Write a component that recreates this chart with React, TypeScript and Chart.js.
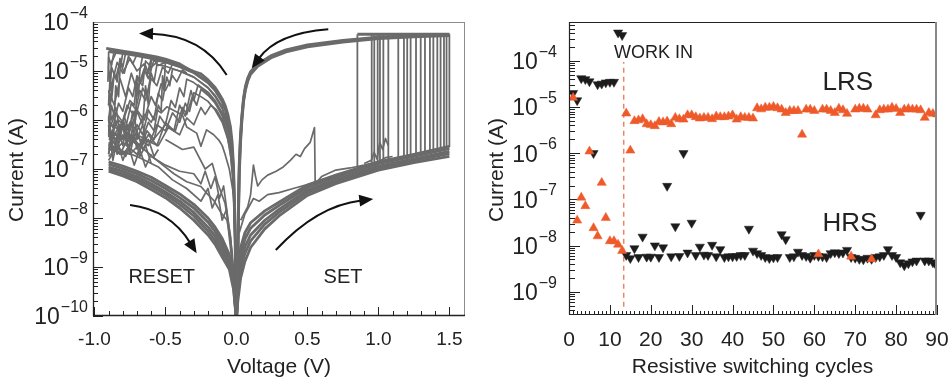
import React, { useEffect, useRef } from 'react';
import { Chart, registerables } from 'chart.js';
Chart.register(...registerables);

const FONT = "'Liberation Sans', Arial, Helvetica, sans-serif";
const GRAY = '#6a6a6a';
const ORANGE = '#ef5a2b';
const BLACK = '#1c1c1c';
const TEXT = '#222222';

type P = [number, number];

// ---------------- Left panel: I-V curves (Voltage V, Current A) ----------------
const lrsPosA: P[] = [[1.5,5.6e-5],[1.25,5.3e-5],[1.0,4.9e-5],[0.75,4.2e-5],[0.5,3.4e-5],[0.35,2.7e-5],[0.25,2.1e-5],[0.15,1.4e-5],[0.1,9.7e-6],[0.08,7.2e-6],[0.063,4.8e-6],[0.05,2.8e-6],[0.038,1.2e-6],[0.028,4.5e-7],[0.019,1.1e-7],[0.014,1.5e-8],[0.01,2e-9],[0.006,4e-10],[0.002,1e-10],[0,8e-11]];
const lrsPosB: P[] = [[1.5,5.3e-5],[1.25,5.0e-5],[1.0,4.6e-5],[0.75,3.9e-5],[0.5,3.1e-5],[0.35,2.45e-5],[0.25,1.9e-5],[0.15,1.25e-5],[0.1,8.6e-6],[0.08,6.2e-6],[0.063,4e-6],[0.05,2.3e-6],[0.038,9e-7],[0.028,3e-7],[0.02,7e-8],[0.015,1.2e-8],[0.01,1.5e-9],[0.005,2.5e-10],[0,8e-11]];
const lrsPosC: P[] = [[1.5,5.45e-5],[1.25,5.15e-5],[1.0,4.75e-5],[0.75,4.05e-5],[0.5,3.25e-5],[0.35,2.6e-5],[0.25,2.0e-5],[0.15,1.32e-5],[0.1,9.1e-6],[0.08,6.7e-6],[0.063,4.4e-6],[0.05,2.55e-6],[0.038,1.05e-6],[0.028,3.7e-7],[0.02,9e-8],[0.015,1.4e-8],[0.01,1.8e-9],[0.005,3e-10],[0,8e-11]];
const hrsPosUpper: P[] = [[0,8e-11],[0.01,8e-10],[0.03,2.5e-9],[0.06,5e-9],[0.1,8e-9],[0.2,1.4e-8],[0.3,2.1e-8],[0.5,4.7e-8],[0.7,7.5e-8],[1.0,1.4e-7],[1.25,2e-7],[1.5,2.9e-7]];
const hrsPosUM: P[] = [[0,8e-11],[0.01,6e-10],[0.03,1.8e-9],[0.06,3.7e-9],[0.1,6.2e-9],[0.2,1.15e-8],[0.3,1.8e-8],[0.5,4.2e-8],[0.7,6.7e-8],[1.0,1.28e-7],[1.25,1.8e-7],[1.5,2.6e-7]];
const hrsPosMid: P[] = [[0,8e-11],[0.01,4e-10],[0.03,1.2e-9],[0.06,2.6e-9],[0.1,4.5e-9],[0.2,9e-9],[0.3,1.5e-8],[0.5,3.7e-8],[0.7,6e-8],[1.0,1.15e-7],[1.25,1.6e-7],[1.5,2.3e-7]];
const hrsPosML: P[] = [[0,8e-11],[0.01,3e-10],[0.03,9e-10],[0.06,1.9e-9],[0.1,3.4e-9],[0.2,7.5e-9],[0.3,1.3e-8],[0.5,3.3e-8],[0.7,5.5e-8],[1.0,1.05e-7],[1.25,1.48e-7],[1.5,2.05e-7]];
const hrsPosLower: P[] = [[0,8e-11],[0.01,2e-10],[0.03,6e-10],[0.06,1.3e-9],[0.1,2.5e-9],[0.2,6e-9],[0.3,1.1e-8],[0.5,2.9e-8],[0.7,5e-8],[1.0,9.5e-8],[1.25,1.35e-7],[1.5,1.8e-7]];
const oddSet1: P[] = [[0.03,9e-9],[0.08,1.7e-8],[0.1,3e-8],[0.12,1.2e-7],[0.135,7e-8],[0.15,4.5e-8],[0.18,6e-8],[0.22,7.5e-8],[0.28,9e-8],[0.33,1.1e-7],[0.38,1.5e-7],[0.42,2e-7],[0.45,1.8e-7],[0.48,2.6e-7],[0.52,3.5e-7],[0.55,7e-7],[0.555,5e-8],[0.6,7e-8],[0.7,9.5e-8],[0.8,1.05e-7],[0.9,1.2e-7],[1.0,1.4e-7],[1.05,1.7e-7],[1.1,1.8e-7]];
const oddSet2: P[] = [[0.02,5e-9],[0.06,1.2e-8],[0.12,2.5e-8],[0.16,2.2e-8],[0.22,3e-8],[0.3,3.3e-8],[0.4,4e-8],[0.5,4.8e-8],[0.6,6e-8],[0.75,8e-8],[0.852,1e-7]];
const spikeSet: P[] = [[0.9,1.3e-7],[0.95,1.5e-7],[0.97,2.2e-7],[0.99,1.6e-7],[1.01,3.5e-7],[1.03,2.5e-7],[1.05,4.2e-7],[1.07,3e-7]];
const setVoltages = [0.852,0.953,0.971,0.995,1.011,1.035,1.07,1.14,1.18,1.203,1.227,1.265,1.298,1.328,1.363,1.387,1.415,1.438,1.462,1.48,1.5];
const setBaseCurrents = [1.1e-7,1.3e-7,1.35e-7,1.4e-7,1.45e-7,1.5e-7,1.6e-7,1.75e-7,1.85e-7,1.9e-7,1.95e-7,2.05e-7,2.1e-7,2.2e-7,2.3e-7,2.4e-7,2.5e-7,2.55e-7,2.6e-7,2.7e-7,2.8e-7];
const complianceCurrent = 5.6e-5;
const complianceLine: P[] = [[0.852,5.6e-5],[1.5,5.6e-5]];

const lrsNegA: P[] = [[0,8e-11],[-0.003,3e-10],[-0.007,2e-9],[-0.012,1.5e-8],[-0.02,1.1e-7],[-0.03,3.5e-7],[-0.042,7.3e-7],[-0.06,1.3e-6],[-0.08,2e-6],[-0.1,2.7e-6],[-0.124,3.5e-6],[-0.15,4.6e-6],[-0.2,6.6e-6],[-0.25,8.8e-6],[-0.33,1.05e-5],[-0.4,1.4e-5],[-0.5,1.75e-5],[-0.563,1.95e-5],[-0.7,2.3e-5],[-0.8,2.55e-5],[-0.917,2.9e-5]];
const lrsNegD: P[] = [[0,8e-11],[-0.004,4e-10],[-0.008,3e-9],[-0.014,2e-8],[-0.022,1.1e-7],[-0.035,3.8e-7],[-0.05,7e-7],[-0.07,1.4e-6],[-0.1,2.4e-6],[-0.15,4.1e-6],[-0.2,5.9e-6],[-0.3,9.5e-6],[-0.4,1.25e-5],[-0.5,1.55e-5],[-0.6,1.8e-5],[-0.7,2.05e-5],[-0.8,2.3e-5],[-0.9,2.5e-5]];
const lrsNegB: P[] = [[0,8e-11],[-0.004,5e-10],[-0.01,6e-9],[-0.018,5e-8],[-0.03,2e-7],[-0.05,5e-7],[-0.075,1.1e-6],[-0.1,1.7e-6],[-0.15,3e-6],[-0.2,4.5e-6],[-0.3,7.5e-6],[-0.4,1e-5],[-0.5,1.25e-5],[-0.56,1.35e-5],[-0.58,6e-6],[-0.6,9e-6],[-0.63,3e-6],[-0.66,4.5e-6],[-0.7,1.5e-6],[-0.74,2.2e-6],[-0.78,7e-7],[-0.83,1e-6],[-0.9,4.5e-7]];
const lrsNegC: P[] = [[0,8e-11],[-0.006,6e-10],[-0.012,5e-9],[-0.025,6e-8],[-0.04,1.8e-7],[-0.06,4e-7],[-0.1,9e-7],[-0.15,1.6e-6],[-0.2,2.4e-6],[-0.25,3e-6],[-0.3,3.6e-6],[-0.33,1.5e-6],[-0.36,2.2e-6],[-0.4,9e-7],[-0.45,1.4e-6],[-0.5,6e-7],[-0.56,8e-7],[-0.62,3e-7],[-0.7,4.5e-7],[-0.8,2e-7],[-0.9,2.8e-7]];
const lrsNegE: P[] = [[0,8e-11],[-0.005,6e-10],[-0.012,8e-9],[-0.02,5e-8],[-0.035,2.2e-7],[-0.06,6e-7],[-0.1,1.4e-6],[-0.15,2.5e-6],[-0.2,3.7e-6],[-0.27,5.2e-6],[-0.3,2.5e-6],[-0.32,4e-6],[-0.36,1.2e-6],[-0.4,2e-6],[-0.44,6e-7],[-0.5,9e-7],[-0.56,3e-7],[-0.62,5e-7],[-0.7,2e-7],[-0.8,3.5e-7],[-0.9,1.8e-7]];
const lrsNegF: P[] = [[0,8e-11],[-0.006,8e-10],[-0.014,1e-8],[-0.025,7e-8],[-0.045,2.5e-7],[-0.07,5.5e-7],[-0.1,1e-6],[-0.14,1.6e-6],[-0.18,2e-6],[-0.22,1.3e-6],[-0.25,1.8e-6],[-0.3,8e-7],[-0.35,1.1e-6],[-0.4,5e-7],[-0.48,7e-7],[-0.55,3e-7],[-0.65,4e-7],[-0.75,2e-7],[-0.9,2.5e-7]];
const lrsNegG: P[] = [[0,8e-11],[-0.005,7e-10],[-0.012,1e-8],[-0.022,8e-8],[-0.04,3e-7],[-0.07,8e-7],[-0.1,1.3e-6],[-0.15,2.2e-6],[-0.2,3.2e-6],[-0.25,4.2e-6],[-0.28,2e-6],[-0.31,3e-6],[-0.35,1.3e-6],[-0.38,1.8e-6],[-0.43,6e-7],[-0.5,8e-7],[-0.6,3.5e-7],[-0.7,5e-7],[-0.9,4e-7]];
const reset1: P[] = [[0,8e-11],[-0.005,8e-10],[-0.012,1.2e-8],[-0.02,9e-8],[-0.035,3.5e-7],[-0.05,6e-7],[-0.08,1.6e-6],[-0.1,2.3e-6],[-0.15,3.9e-6],[-0.2,5.6e-6],[-0.3,9e-6],[-0.4,1.2e-5],[-0.5,1.5e-5],[-0.6,1.7e-5],[-0.62,9e-6],[-0.64,1.3e-5],[-0.67,6e-6],[-0.7,8e-6],[-0.73,3e-6],[-0.76,4.5e-6],[-0.8,1.5e-6],[-0.83,2.2e-6],[-0.87,7e-7],[-0.9,1e-6]];
const reset2: P[] = [[0,8e-11],[-0.006,1e-9],[-0.015,1.5e-8],[-0.025,9e-8],[-0.04,2.8e-7],[-0.06,6e-7],[-0.1,1.9e-6],[-0.15,3.2e-6],[-0.2,4.6e-6],[-0.3,7.5e-6],[-0.4,1e-5],[-0.45,1.1e-5],[-0.47,5e-6],[-0.49,7.5e-6],[-0.52,2.5e-6],[-0.55,3.5e-6],[-0.58,1e-6],[-0.62,1.6e-6],[-0.66,5e-7],[-0.7,8e-7],[-0.75,3.5e-7],[-0.8,5e-7],[-0.85,2.5e-7],[-0.9,3.5e-7]];
const reset3: P[] = [[-0.3,1e-5],[-0.4,1.35e-5],[-0.5,1.65e-5],[-0.6,1.9e-5],[-0.7,2.15e-5],[-0.78,2.35e-5],[-0.8,1.2e-5],[-0.82,1.8e-5],[-0.84,6e-6],[-0.86,9e-6],[-0.88,2.5e-6],[-0.9,4e-6]];
const reset4: P[] = [[-0.5,1.7e-5],[-0.7,2.25e-5],[-0.86,2.6e-5],[-0.88,1.3e-5],[-0.9,1.9e-5],[-0.905,6e-6]];
const reset5: P[] = [[-0.05,3.5e-7],[-0.1,1.2e-6],[-0.15,2.3e-6],[-0.2,3.5e-6],[-0.3,5.8e-6],[-0.35,6.8e-6],[-0.37,3e-6],[-0.4,4.5e-6],[-0.43,1.8e-6],[-0.46,2.5e-6],[-0.5,8e-7],[-0.54,1.2e-6],[-0.58,4e-7],[-0.63,6e-7],[-0.68,2.5e-7],[-0.73,4e-7],[-0.78,1.8e-7],[-0.84,3e-7],[-0.9,1.5e-7]];
const reset6: P[] = [[-0.02,3e-8],[-0.05,1e-7],[-0.08,2e-7],[-0.1,3e-7],[-0.124,3.9e-7],[-0.16,5e-7],[-0.21,6.3e-7],[-0.25,2.9e-7],[-0.28,5.4e-7],[-0.35,7.2e-7],[-0.38,1.26e-6],[-0.43,1.5e-6],[-0.49,1.86e-6],[-0.53,1.4e-6],[-0.56,1.6e-6],[-0.6,9e-7],[-0.65,1.3e-6],[-0.7,6e-7],[-0.75,9e-7],[-0.8,4e-7],[-0.9,6e-7]];
const reset7: P[] = [[-0.85,2.3e-5],[-0.88,1.5e-5],[-0.89,4e-6],[-0.87,6e-6],[-0.9,1e-6],[-0.88,5e-7],[-0.9,2e-7]];
const reset8: P[] = [[-0.6,1.95e-5],[-0.66,2.1e-5],[-0.68,1e-5],[-0.69,3e-6],[-0.7,6e-6],[-0.71,1e-6],[-0.73,1.5e-6],[-0.76,5e-7],[-0.8,8e-7],[-0.85,3e-7],[-0.9,5e-7]];
const reset9: P[] = [[-0.45,1.5e-5],[-0.5,1.6e-5],[-0.51,4e-6],[-0.52,8e-6],[-0.53,1.5e-6],[-0.55,2e-6],[-0.58,6e-7],[-0.62,9e-7],[-0.68,3e-7],[-0.75,5e-7],[-0.82,2e-7],[-0.9,3e-7]];
const reset10: P[] = [[-0.6,1.8e-5],[-0.63,8e-6],[-0.65,1.4e-5],[-0.7,1e-5],[-0.75,1.8e-5],[-0.8,9e-6],[-0.84,1.5e-5],[-0.88,5e-6],[-0.9,8e-6]];
const reset11: P[] = [[-0.55,1.6e-5],[-0.6,1.2e-5],[-0.64,1.6e-5],[-0.66,5e-6],[-0.7,7e-6],[-0.72,2e-6],[-0.75,2.5e-6],[-0.8,9e-7],[-0.85,1.4e-6],[-0.9,6e-7]];
const topLeft1: P[] = [[-0.5,1.5e-5],[-0.55,1.3e-5],[-0.58,1.7e-5],[-0.62,7e-6],[-0.65,1.1e-5],[-0.7,4e-6],[-0.74,9e-6],[-0.78,3e-6],[-0.82,7e-6],[-0.86,2e-6],[-0.9,4e-6]];
const topLeft2: P[] = [[-0.7,2.2e-5],[-0.73,1.4e-5],[-0.76,2e-5],[-0.79,9e-6],[-0.82,1.6e-5],[-0.85,7e-6],[-0.88,1.2e-5],[-0.9,2e-6]];
const topLeft3: P[] = [[-0.4,1.3e-5],[-0.45,1.4e-5],[-0.48,9e-6],[-0.52,1.2e-5],[-0.56,5e-6],[-0.6,7e-6],[-0.64,2.5e-6],[-0.68,4e-6],[-0.72,1.2e-6],[-0.77,2e-6],[-0.82,6e-7],[-0.9,9e-7]];
const topLeft4: P[] = [[-0.6,1.6e-5],[-0.62,2e-6],[-0.64,5e-6],[-0.66,8e-7],[-0.7,1.5e-6],[-0.75,4e-7],[-0.8,7e-7],[-0.9,2.5e-7]];
const topLeft5: P[] = [[-0.8,2.4e-5],[-0.82,1e-5],[-0.83,3e-6],[-0.85,5e-6],[-0.86,1.2e-6],[-0.88,2e-6],[-0.9,5e-7]];
const topLeft6: P[] = [[-0.35,9e-6],[-0.38,1.05e-5],[-0.42,6e-6],[-0.45,8e-6],[-0.5,4e-6],[-0.53,5.5e-6],[-0.57,2e-6],[-0.6,3e-6],[-0.65,1e-6],[-0.7,1.6e-6],[-0.76,5e-7],[-0.82,8e-7],[-0.9,3e-7]];
const topLeft7: P[] = [[-0.88,2.7e-5],[-0.9,2.4e-5],[-0.9,1.1e-5],[-0.89,7e-6],[-0.9,2e-6]];
const cluster1: P[] = [[-0.9,5e-7],[-0.86,2.5e-7],[-0.83,6e-7],[-0.8,3e-7],[-0.77,8e-7],[-0.74,3.5e-7],[-0.7,6e-7],[-0.66,2.5e-7],[-0.62,4e-7],[-0.58,1.8e-7],[-0.55,2.5e-7]];
const cluster2: P[] = [[-0.9,2e-7],[-0.87,6e-7],[-0.84,2e-7],[-0.81,9e-7],[-0.78,4e-7],[-0.75,2e-7],[-0.72,5e-7],[-0.68,1.8e-7],[-0.64,3e-7],[-0.6,1.3e-7]];
const cluster3: P[] = [[-0.9,1.2e-6],[-0.88,3e-7],[-0.85,1e-6],[-0.82,4e-7],[-0.79,1.2e-6],[-0.76,6e-7],[-0.72,1.5e-6],[-0.7,4e-7],[-0.66,8e-7],[-0.63,3e-7]];
const cluster4: P[] = [[-0.9,8e-7],[-0.87,1.5e-7],[-0.84,4e-7],[-0.8,1.5e-7],[-0.76,3e-7],[-0.72,1.2e-7],[-0.68,2.5e-7],[-0.64,1.1e-7],[-0.6,2e-7]];
const cluster5: P[] = [[-0.9,2.5e-6],[-0.88,1e-6],[-0.85,1.8e-6],[-0.82,6e-7],[-0.79,9e-7],[-0.76,2.5e-7],[-0.73,7e-7],[-0.7,2.5e-7]];
const hrsNegA: P[] = [[-0.9,9e-8],[-0.8,7.2e-8],[-0.7,5.5e-8],[-0.6,3.8e-8],[-0.5,2.6e-8],[-0.4,1.6e-8],[-0.3,9e-9],[-0.2,4.5e-9],[-0.15,2.9e-9],[-0.1,1.6e-9],[-0.05,9e-10],[-0.02,3.5e-10],[-0.005,1.2e-10],[0,8e-11]];
const hrsNegD: P[] = [[-0.9,1e-7],[-0.8,8e-8],[-0.7,6.2e-8],[-0.6,4.4e-8],[-0.5,3e-8],[-0.4,1.9e-8],[-0.3,1.1e-8],[-0.2,5.4e-9],[-0.15,3.5e-9],[-0.1,2e-9],[-0.05,1.1e-9],[-0.02,4e-10],[0,8e-11]];
const hrsNegB: P[] = [[-0.9,1.1e-7],[-0.8,9e-8],[-0.7,7e-8],[-0.6,5e-8],[-0.5,3.4e-8],[-0.4,2.2e-8],[-0.3,1.3e-8],[-0.2,6.5e-9],[-0.15,4.3e-9],[-0.1,2.5e-9],[-0.05,1.3e-9],[-0.02,5e-10],[-0.005,1.5e-10],[0,8e-11]];
const hrsNegE: P[] = [[-0.9,1.25e-7],[-0.8,1.02e-7],[-0.7,8e-8],[-0.6,5.8e-8],[-0.5,4e-8],[-0.4,2.6e-8],[-0.3,1.6e-8],[-0.2,8.2e-9],[-0.15,5.3e-9],[-0.1,3.1e-9],[-0.05,1.5e-9],[-0.02,5.5e-10],[0,8e-11]];
const hrsNegC: P[] = [[-0.9,1.4e-7],[-0.8,1.15e-7],[-0.7,9e-8],[-0.6,6.8e-8],[-0.5,4.6e-8],[-0.4,3.1e-8],[-0.3,1.9e-8],[-0.2,1e-8],[-0.15,6.5e-9],[-0.1,3.8e-9],[-0.05,1.8e-9],[-0.02,6e-10],[0,8e-11]];
const return1: P[] = [[-0.9,6e-7],[-0.75,4e-7],[-0.65,2.5e-7],[-0.56,1.5e-7],[-0.44,8e-8],[-0.35,5.5e-8],[-0.25,4.4e-8],[-0.2,3e-8],[-0.16,2.3e-8],[-0.11,1.3e-8],[-0.066,9e-9],[-0.042,3.5e-9],[-0.02,8e-10],[0,8e-11]];
const return2: P[] = [[-0.9,3e-7],[-0.7,1.8e-7],[-0.55,1.1e-7],[-0.45,6e-8],[-0.35,4e-8],[-0.25,2.2e-8],[-0.2,4e-8],[-0.17,1.6e-8],[-0.13,3e-8],[-0.1,9e-9],[-0.07,1.5e-8],[-0.05,4e-9],[-0.03,1.2e-9],[0,8e-11]];
const return3: P[] = [[-0.6,1.8e-7],[-0.5,1.2e-7],[-0.4,9e-8],[-0.3,8e-8],[-0.25,5e-8],[-0.22,9e-8],[-0.18,4e-8],[-0.15,7e-8],[-0.12,2.5e-8],[-0.09,4.5e-8],[-0.06,1e-8],[-0.03,2e-9],[0,8e-11]];
const return4: P[] = [[-0.5,4e-7],[-0.38,2.5e-7],[-0.3,2.8e-7],[-0.22,1e-7],[-0.17,1.3e-7],[-0.13,5e-8],[-0.08,2e-8],[-0.04,4e-9],[0,8e-11]];

const leftXTickLabels = ['-1.0', '-0.5', '0.0', '0.5', '1.0', '1.5'];
const leftXTickValues = [-1.0, -0.5, 0, 0.5, 1.0, 1.5];
const leftYDecades = [-4, -5, -6, -7, -8, -9, -10];

// ---------------- Right panel: switching cycles ----------------
const cycles = Array.from({ length: 90 }, (_, i) => i + 1);
const lrsCurrent = [
  1.6e-5, 3.5e-8, 1.1e-7, 7.2e-8, 1.1e-6, 2.4e-8, 1.6e-8, 2.3e-7, 4.0e-8, 1.25e-8,
  1.25e-8, 1.05e-8, 7.7e-9, 7.3e-6, 1.15e-6, 5.0e-6, 5.2e-6, 5.5e-6, 4.3e-6, 4.1e-6,
  3.9e-6, 4.8e-6, 4.7e-6, 4.9e-6, 4.3e-6, 5.9e-6, 5.5e-6, 5.4e-6, 6.7e-6, 6.7e-6,
  6.1e-6, 5.7e-6, 5.9e-6, 5.9e-6, 5.5e-6, 6.3e-6, 6.1e-6, 6.1e-6, 6.3e-6, 6.7e-6,
  5.4e-6, 6.1e-6, 5.9e-6, 5.9e-6, 5.7e-6, 9.5e-6, 9.0e-6, 9.8e-6, 9.8e-6, 1.02e-5,
  9.5e-6, 8.9e-6, 7.5e-6, 8.3e-6, 8.3e-6, 8.3e-6, 2.55e-6, 8.9e-6, 8.9e-6, 8.3e-6,
  6.5e-9, 8.9e-6, 8.9e-6, 8.3e-6, 7.5e-6, 9.3e-6, 8.6e-6, 7.2e-6, 5.8e-9, 8.9e-6,
  9.3e-6, 9.3e-6, 8.9e-6, 5.1e-9, 6.7e-6, 8.6e-6, 8.9e-6, 8.9e-6, 9.8e-6, 9.2e-6,
  7.5e-6, 8.9e-6, 9.2e-6, 8.9e-6, 8.9e-6, 8.6e-6, 5.9e-6, 7.5e-6, 7.2e-6, 7.0e-6,
];
const hrsCurrent = [
  2.0e-5, 1.4e-5, 4.2e-5, 4.0e-5, 3.6e-5, 1.0e-6, 3.1e-5, 3.2e-5, 3.4e-5, 3.5e-5,
  3.5e-5, 4.1e-4, 3.6e-4, 6.2e-9, 5.3e-9, 8.7e-9, 5.6e-9, 1.55e-8, 5.7e-9, 5.7e-9,
  1.0e-8, 5.6e-9, 9.1e-9, 1.95e-7, 5.8e-9, 2.6e-8, 5.9e-9, 1.0e-6, 7.0e-9, 3.1e-8,
  6.2e-9, 9.4e-9, 6.3e-9, 6.2e-9, 1.03e-8, 5.8e-9, 8.3e-9, 5.6e-9, 5.8e-9, 5.8e-9,
  5.9e-9, 6.2e-9, 6.2e-9, 2.3e-8, 7.7e-9, 6.8e-9, 6.2e-9, 5.6e-9, 5.3e-9, 5.5e-9,
  5.6e-9, 1.75e-8, 1.36e-8, 5.6e-9, 5.8e-9, 7.3e-9, 6.2e-9, 5.9e-9, 5.4e-9, 6.2e-9,
  5.9e-9, 5.8e-9, 5.6e-9, 6.8e-9, 7.1e-9, 6.8e-9, 7.0e-9, 8.0e-9, 5.6e-9, 5.4e-9,
  5.1e-9, 5.0e-9, 5.4e-9, 5.1e-9, 5.6e-9, 5.8e-9, 6.2e-9, 8.3e-9, 6.2e-9, 5.6e-9,
  4.3e-9, 3.7e-9, 4.1e-9, 4.5e-9, 4.7e-9, 4.6e-8, 4.7e-9, 4.7e-9, 4.3e-9, 3.5e-9,
];
const workInLine: P[] = [[13.4, 4.7e-10], [13.4, 9.5e-5]];
const rightXTickValues = [0, 10, 20, 30, 40, 50, 60, 70, 80, 90];
const rightYDecades = [-4, -5, -6, -7, -8, -9];

// annotation anchors (data coordinates)
const arrowsLeft = [
  { tail: [-0.0685, 8.28e-6], ctrl: [-0.2445, 5.43e-5], tip: [-0.686, 5.82e-5] },
  { tail: [0.647, 7.1e-5], ctrl: [0.285, 5.88e-5], tip: [0.108, 1.135e-5] },
  { tail: [-0.749, 1.84e-8], ctrl: [-0.468, 1.46e-8], tip: [-0.28, 1.9e-9] },
  { tail: [0.2775, 2.22e-9], ctrl: [0.567, 1.8e-8], tip: [0.964, 2.44e-8] },
];

const toXY = (pts: P[]) => pts.map(([x, y]) => ({ x, y }));

function drawPow(ctx: CanvasRenderingContext2D, xRight: number, y: number, exp: number) {
  const sup = '\u2212' + Math.abs(exp);
  ctx.font = `16px ${FONT}`;
  const ws = ctx.measureText(sup).width;
  ctx.font = `23px ${FONT}`;
  const wb = ctx.measureText('10').width;
  ctx.textAlign = 'left';
  ctx.textBaseline = 'alphabetic';
  ctx.fillText('10', xRight - ws - wb - 1, y + 8.3);
  ctx.font = `16px ${FONT}`;
  ctx.fillText(sup, xRight - ws, y - 4);
}

function logTickValues(min: number, max: number) {
  const out: { v: number; major: boolean }[] = [];
  for (let d = Math.floor(Math.log10(min)); d <= Math.ceil(Math.log10(max)); d++) {
    for (let m = 1; m <= 9; m++) {
      const v = m * Math.pow(10, d);
      if (v >= min * 0.999 && v <= max * 1.001) out.push({ v, major: m === 1 });
    }
  }
  return out;
}

function seg(ctx: CanvasRenderingContext2D, x1: number, y1: number, x2: number, y2: number) {
  ctx.beginPath();
  ctx.moveTo(x1, y1);
  ctx.lineTo(x2, y2);
  ctx.stroke();
}

function drawArrow(ctx: CanvasRenderingContext2D, xs: any, ys: any, a: any) {
  const px = (p: number[]) => ({ x: xs.getPixelForValue(p[0]), y: ys.getPixelForValue(p[1]) });
  const t = px(a.tail), c = px(a.ctrl), tip = px(a.tip);
  const dx = tip.x - c.x, dy = tip.y - c.y;
  const L = Math.hypot(dx, dy);
  const ux = dx / L, uy = dy / L;
  const hl = 14, hw = 6;
  const bx = tip.x - ux * hl, by = tip.y - uy * hl;
  ctx.strokeStyle = '#111';
  ctx.fillStyle = '#111';
  ctx.lineWidth = 2;
  ctx.beginPath();
  ctx.moveTo(t.x, t.y);
  ctx.quadraticCurveTo(c.x, c.y, bx + ux * 2, by + uy * 2);
  ctx.stroke();
  ctx.beginPath();
  ctx.moveTo(tip.x, tip.y);
  ctx.lineTo(bx - uy * hw, by + ux * hw);
  ctx.lineTo(bx + uy * hw, by - ux * hw);
  ctx.closePath();
  ctx.fill();
}

const leftPlugin = {
  id: 'leftDecor',
  beforeDatasetsDraw(chart: any) {
    const { ctx, chartArea: a, scales } = chart;
    const xs = scales.x, ys = scales.y;
    ctx.save();
    ctx.strokeStyle = '#222';
    ctx.lineWidth = 1;
    for (const t of logTickValues(1e-10, 1e-4)) {
      const y = Math.round(ys.getPixelForValue(t.v)) + 0.5;
      seg(ctx, a.left, y, a.left + (t.major ? 10 : 5), y);
    }
    for (let k = -10; k <= 16; k++) {
      const x = Math.round(xs.getPixelForValue(k / 10)) + 0.5;
      seg(ctx, x, a.bottom, x, a.bottom - (k % 5 === 0 ? 9 : 5));
    }
    ctx.restore();
  },
  afterDraw(chart: any) {
    const { ctx, chartArea: a, scales } = chart;
    const xs = scales.x, ys = scales.y;
    ctx.save();
    ctx.lineWidth = 1;
    ctx.strokeStyle = '#8c8c8c';
    seg(ctx, a.left, a.top + 0.5, a.right, a.top + 0.5);
    seg(ctx, a.right - 0.5, a.top, a.right - 0.5, a.bottom);
    ctx.strokeStyle = '#222';
    ctx.lineWidth = 1.3;
    seg(ctx, a.left + 0.5, a.top, a.left + 0.5, a.bottom);
    seg(ctx, a.left, a.bottom - 0.5, a.right, a.bottom - 0.5);

    ctx.fillStyle = TEXT;
    for (const d of leftYDecades) drawPow(ctx, 88, ys.getPixelForValue(Math.pow(10, d)), d);
    ctx.font = `19px ${FONT}`;
    ctx.textAlign = 'center';
    ctx.textBaseline = 'alphabetic';
    leftXTickValues.forEach((v, i) => ctx.fillText(leftXTickLabels[i], xs.getPixelForValue(v), 345));

    ctx.font = `21px ${FONT}`;
    ctx.fillText('Voltage (V)', (a.left + a.right) / 2, 373);
    ctx.save();
    ctx.translate(17, 170);
    ctx.rotate(-Math.PI / 2);
    ctx.textBaseline = 'middle';
    ctx.fillText('Current (A)', 0, 0);
    ctx.restore();

    ctx.font = `20px ${FONT}`;
    ctx.textAlign = 'center';
    ctx.textBaseline = 'alphabetic';
    ctx.fillText('RESET', xs.getPixelForValue(-0.526), ys.getPixelForValue(4.8e-10));
    ctx.fillText('SET', xs.getPixelForValue(0.751), ys.getPixelForValue(4.8e-10));

    for (const ar of arrowsLeft) drawArrow(ctx, xs, ys, ar);
    ctx.restore();
  },
};

const rightPlugin = {
  id: 'rightDecor',
  beforeDatasetsDraw(chart: any) {
    const { ctx, chartArea: a, scales } = chart;
    const xs = scales.x, ys = scales.y;
    ctx.save();
    ctx.strokeStyle = '#222';
    ctx.lineWidth = 1;
    for (const t of logTickValues(ys.min, ys.max)) {
      const y = Math.round(ys.getPixelForValue(t.v)) + 0.5;
      seg(ctx, a.left, y, a.left + (t.major ? 11 : 6), y);
    }
    for (let k = 0; k <= 90; k++) {
      const x = Math.round(xs.getPixelForValue(k)) + 0.5;
      seg(ctx, x, a.bottom, x, a.bottom - (k % 10 === 0 ? 10 : 4));
    }
    ctx.restore();
  },
  afterDraw(chart: any) {
    const { ctx, chartArea: a, scales } = chart;
    const xs = scales.x, ys = scales.y;
    ctx.save();
    ctx.strokeStyle = '#222';
    ctx.lineWidth = 1.2;
    seg(ctx, a.left, a.top + 0.5, a.right, a.top + 0.5);
    seg(ctx, a.left + 0.5, a.top, a.left + 0.5, a.bottom);
    seg(ctx, a.left, a.bottom - 0.5, a.right, a.bottom - 0.5);
    ctx.strokeStyle = '#888';
    ctx.lineWidth = 2;
    seg(ctx, a.right - 1, a.top, a.right - 1, a.bottom);

    ctx.fillStyle = TEXT;
    for (const d of rightYDecades) drawPow(ctx, a.left - 12, ys.getPixelForValue(Math.pow(10, d)), d);
    ctx.font = `21px ${FONT}`;
    ctx.textAlign = 'center';
    ctx.textBaseline = 'alphabetic';
    rightXTickValues.forEach((v) => ctx.fillText(String(v), xs.getPixelForValue(v), 346));
    ctx.fillText('Resistive switching cycles', 272.5, 373);
    ctx.save();
    ctx.translate(17, 170);
    ctx.rotate(-Math.PI / 2);
    ctx.textBaseline = 'middle';
    ctx.fillText('Current (A)', 0, 0);
    ctx.restore();

    ctx.textAlign = 'left';
    ctx.font = `18px ${FONT}`;
    ctx.fillText('WORK IN', xs.getPixelForValue(11.0), ys.getPixelForValue(1.14e-4));
    ctx.font = `26px ${FONT}`;
    ctx.fillText('LRS', xs.getPixelForValue(62.0), ys.getPixelForValue(2.4e-5));
    ctx.fillText('HRS', xs.getPixelForValue(62.0), ys.getPixelForValue(2.09e-8));
    ctx.restore();
  },
};

export default function App() {
  const leftRef = useRef<HTMLCanvasElement>(null);
  const rightRef = useRef<HTMLCanvasElement>(null);

  useEffect(() => {
    const bandCurves = [lrsPosA, lrsPosB, lrsPosC, lrsNegA, lrsNegD, hrsPosUpper, hrsPosUM, hrsPosMid, hrsPosML, hrsPosLower,
      hrsNegA, hrsNegD, hrsNegB, hrsNegE, hrsNegC];
    const thinCurves = [lrsNegB, lrsNegC, lrsNegE, lrsNegF, lrsNegG, reset1, reset2, reset3, reset4, reset5, reset6, reset7, reset8, reset9, reset10, reset11,
      topLeft1, topLeft2, topLeft3, topLeft4, topLeft5, topLeft6, topLeft7,
      cluster1, cluster2, cluster3, cluster4, cluster5, return1, return2, return3, return4, oddSet1, oddSet2, spikeSet];
    const setEvents: P[][] = setVoltages.map((v, i) => [[v, setBaseCurrents[i]], [v, complianceCurrent]]);

    const lineDs = (pts: P[], w: number) => ({
      data: toXY(pts),
      showLine: true,
      borderColor: GRAY,
      borderWidth: w,
      pointRadius: 0,
      tension: 0,
      borderJoinStyle: 'round' as const,
      clip: 0,
    });

    const leftDatasets = [
      ...bandCurves.map((c) => lineDs(c, 2.8)),
      ...thinCurves.map((c) => lineDs(c, 1.7)),
      ...setEvents.map((c) => lineDs(c, 1.8)),
      lineDs(complianceLine, 3),
    ];

    const left = new Chart(leftRef.current!, {
      type: 'scatter',
      data: { datasets: leftDatasets as any },
      options: {
        animation: false,
        responsive: false,
        devicePixelRatio: 1,
        events: [],
        layout: { padding: { left: 93, top: 22, right: 15, bottom: 64 } },
        plugins: { legend: { display: false }, tooltip: { enabled: false } },
        scales: {
          x: { type: 'linear', min: -1.01, max: 1.61, display: false, bounds: 'data' },
          y: { type: 'logarithmic', min: 1e-10, max: 1e-4, display: false, bounds: 'data' },
        },
      },
      plugins: [leftPlugin],
    } as any);

    const right = new Chart(rightRef.current!, {
      type: 'scatter',
      data: {
        datasets: [
          {
            label: 'LRS',
            data: cycles.map((c, i) => ({ x: c, y: lrsCurrent[i] })),
            pointStyle: 'triangle',
            pointRadius: 5.3,
            backgroundColor: ORANGE,
            borderColor: ORANGE,
            borderWidth: 0.5,
            showLine: false,
            clip: 0,
          },
          {
            label: 'HRS',
            data: cycles.map((c, i) => ({ x: c, y: hrsCurrent[i] })),
            pointStyle: 'triangle',
            pointRotation: 180,
            pointRadius: 5.3,
            backgroundColor: BLACK,
            borderColor: BLACK,
            borderWidth: 0.5,
            showLine: false,
            clip: 0,
          },
          {
            label: 'work in',
            data: toXY(workInLine),
            showLine: true,
            borderColor: ORANGE,
            borderWidth: 1.1,
            borderDash: [5, 4],
            pointRadius: 0,
          },
        ],
      },
      options: {
        animation: false,
        responsive: false,
        devicePixelRatio: 1,
        events: [],
        layout: { padding: { left: 89, top: 22, right: 15, bottom: 65 } },
        plugins: { legend: { display: false }, tooltip: { enabled: false } },
        scales: {
          x: { type: 'linear', min: 0, max: 90, display: false, bounds: 'data' },
          y: { type: 'logarithmic', min: 3.13e-10, max: 6.98e-4, display: false, bounds: 'data' },
        },
      },
      plugins: [rightPlugin],
    } as any);

    return () => {
      left.destroy();
      right.destroy();
    };
  }, []);

  return (
    <div style={{ position: 'absolute', left: 0, top: 0, width: 952, height: 380, background: '#fff' }}>
      <canvas ref={leftRef} width={480} height={380} style={{ position: 'absolute', left: 0, top: 0, width: 480, height: 380 }} />
      <canvas ref={rightRef} width={472} height={380} style={{ position: 'absolute', left: 480, top: 0, width: 472, height: 380 }} />
    </div>
  );
}
